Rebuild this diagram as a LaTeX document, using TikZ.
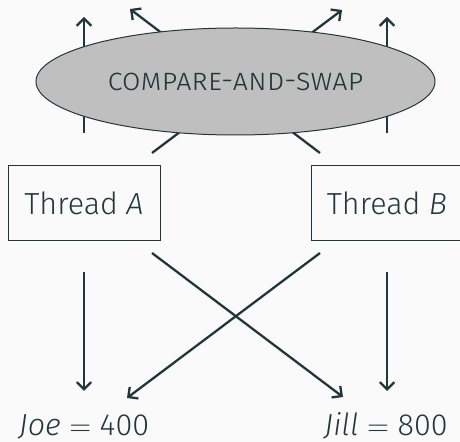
\documentclass[tikz,border=0pt]{standalone}
\usepackage{fontspec}
\setmainfont{Fira Sans Light}[ItalicFont=Fira Sans Light Italic]
\usetikzlibrary{arrows.meta,shapes.geometric}
\definecolor{mteal}{HTML}{23373B}
\definecolor{mbg}{HTML}{FAFAFA}
\definecolor{mgray}{HTML}{BFBFBF}
\tikzset{
  flow/.style={draw=mteal, line width=1.15pt, -{Straight Barb[length=3.6pt,width=7.2pt,line width=1.15pt]}},
  threadbox/.style={draw=mteal, line width=0.5pt, minimum width=76pt, minimum height=37.5pt,
    inner sep=0pt, text=mteal, font=\fontsize{15.25}{18}\selectfont},
  casnode/.style={ellipse, draw=mteal, line width=0.5pt, fill=mgray, minimum width=199.5pt,
    minimum height=53.5pt, inner sep=0pt, text=mteal, font=\fontsize{15.25}{18}\selectfont},
  valnode/.style={anchor=base, inner sep=0pt, text=mteal, font=\fontsize{15.25}{18}\selectfont}
}
\begin{document}
\begin{tikzpicture}[x=0.5pt, y=-0.5pt]
  \fill[mbg] (0,0) rectangle (460,442);
  \useasboundingbox (0,0) rectangle (460,442);

  % end points of the connectors
  \coordinate (aup0) at (84,133);   \coordinate (aup1) at (84,17);
  \coordinate (bup0) at (387,133);  \coordinate (bup1) at (387,17);
  \coordinate (adiag0) at (152,153); \coordinate (adiag1) at (342,10);
  \coordinate (bdiag0) at (320,153); \coordinate (bdiag1) at (130,9);
  \coordinate (adn0) at (84,272);   \coordinate (adn1) at (84,391);
  \coordinate (bdn0) at (387,272);  \coordinate (bdn1) at (387,391);
  \coordinate (ax0) at (152,253);   \coordinate (ax1) at (343,397);
  \coordinate (bx0) at (320,253);   \coordinate (bx1) at (127,398);

  % upward arrows, passing behind the CAS ellipse
  \draw[flow] (aup0) -- (aup1);
  \draw[flow] (bup0) -- (bup1);
  \draw[flow] (adiag0) -- (adiag1);
  \draw[flow] (bdiag0) -- (bdiag1);

  \node[casnode] (cas) at (235.5,81.5) {\textsc{compare-and-swap}};

  \node[threadbox] (ta) at (84,203) {Thread \textit{A}};
  \node[threadbox] (tb) at (387,203) {Thread \textit{B}};

  \node[valnode] (joe) at (84,436) {\textit{Joe} $=$ 400};
  \node[valnode] (jill) at (386,436) {\textit{Jill} $=$ 800};

  % downward arrows to the two values
  \draw[flow] (adn0) -- (adn1);
  \draw[flow] (bdn0) -- (bdn1);
  \draw[flow] (ax0) -- (ax1);
  \draw[flow] (bx0) -- (bx1);
\end{tikzpicture}
\end{document}
